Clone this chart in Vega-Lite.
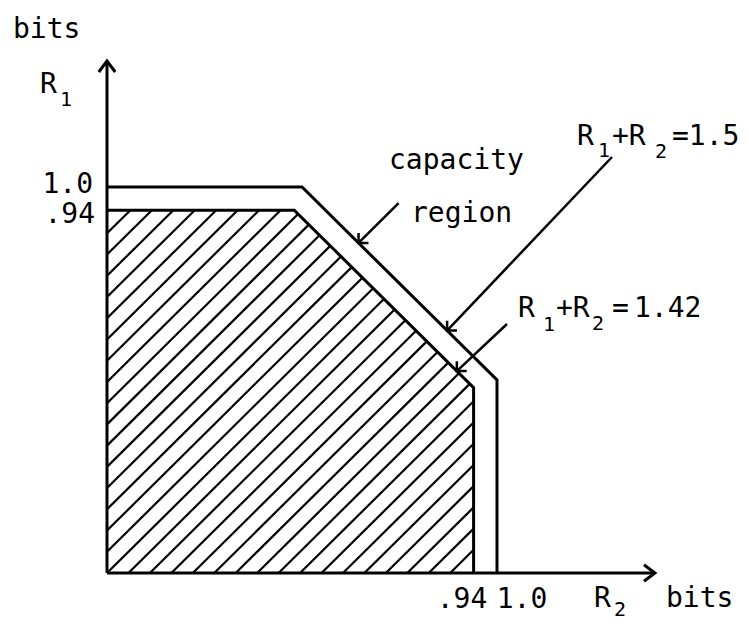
{
  "$schema": "https://vega.github.io/schema/vega-lite/v6.json",
  "width": 749,
  "height": 627,
  "autosize": {"type": "none"},
  "padding": 0,
  "background": "white",
  "config": {"view": {"stroke": null}},
  "datasets": {
    "hatch": [
      {"x": 0.88, "y": 0, "x2": 0.94, "y2": 0.06},
      {"x": 0.825, "y": 0, "x2": 0.94, "y2": 0.115},
      {"x": 0.77, "y": 0, "x2": 0.94, "y2": 0.17},
      {"x": 0.715, "y": 0, "x2": 0.94, "y2": 0.225},
      {"x": 0.66, "y": 0, "x2": 0.94, "y2": 0.28},
      {"x": 0.605, "y": 0, "x2": 0.94, "y2": 0.335},
      {"x": 0.55, "y": 0, "x2": 0.94, "y2": 0.39},
      {"x": 0.495, "y": 0, "x2": 0.94, "y2": 0.445},
      {"x": 0.44, "y": 0, "x2": 0.93, "y2": 0.49},
      {"x": 0.385, "y": 0, "x2": 0.9025, "y2": 0.5175},
      {"x": 0.33, "y": 0, "x2": 0.875, "y2": 0.545},
      {"x": 0.275, "y": 0, "x2": 0.8475, "y2": 0.5725},
      {"x": 0.22, "y": 0, "x2": 0.82, "y2": 0.6},
      {"x": 0.165, "y": 0, "x2": 0.7925, "y2": 0.6275},
      {"x": 0.11, "y": 0, "x2": 0.765, "y2": 0.655},
      {"x": 0.055, "y": 0, "x2": 0.7375, "y2": 0.6825},
      {"x": 0, "y": 0, "x2": 0.71, "y2": 0.71},
      {"x": 0, "y": 0.055, "x2": 0.6825, "y2": 0.7375},
      {"x": 0, "y": 0.11, "x2": 0.655, "y2": 0.765},
      {"x": 0, "y": 0.165, "x2": 0.6275, "y2": 0.7925},
      {"x": 0, "y": 0.22, "x2": 0.6, "y2": 0.82},
      {"x": 0, "y": 0.275, "x2": 0.5725, "y2": 0.8475},
      {"x": 0, "y": 0.33, "x2": 0.545, "y2": 0.875},
      {"x": 0, "y": 0.385, "x2": 0.5175, "y2": 0.9025},
      {"x": 0, "y": 0.44, "x2": 0.49, "y2": 0.93},
      {"x": 0, "y": 0.495, "x2": 0.445, "y2": 0.94},
      {"x": 0, "y": 0.55, "x2": 0.39, "y2": 0.94},
      {"x": 0, "y": 0.605, "x2": 0.335, "y2": 0.94},
      {"x": 0, "y": 0.66, "x2": 0.28, "y2": 0.94},
      {"x": 0, "y": 0.715, "x2": 0.225, "y2": 0.94},
      {"x": 0, "y": 0.77, "x2": 0.17, "y2": 0.94},
      {"x": 0, "y": 0.825, "x2": 0.115, "y2": 0.94},
      {"x": 0, "y": 0.88, "x2": 0.06, "y2": 0.94}
    ],
    "regions": [
      {"region": "capacity", "order": 1, "x": 0, "y": 1.0},
      {"region": "capacity", "order": 2, "x": 0.5, "y": 1.0},
      {"region": "capacity", "order": 3, "x": 1.0, "y": 0.5},
      {"region": "capacity", "order": 4, "x": 1.0, "y": 0},
      {"region": "achievable", "order": 1, "x": 0, "y": 0.94},
      {"region": "achievable", "order": 2, "x": 0.48, "y": 0.94},
      {"region": "achievable", "order": 3, "x": 0.94, "y": 0.48},
      {"region": "achievable", "order": 4, "x": 0.94, "y": 0}
    ],
    "axes": [
      {"x": 0, "y": 0, "x2": 1.405, "y2": 0},
      {"x": 0, "y": 0, "x2": 0, "y2": 1.3264}
    ],
    "axisHeads": [
      {"x": 1.405, "y": 0, "dir": 0},
      {"x": 0, "y": 1.3264, "dir": 270}
    ],
    "pointers": [
      {"x": 0.645, "y": 0.855, "x2": 0.7477, "y2": 0.9585},
      {"x": 0.872, "y": 0.628, "x2": 1.2949, "y2": 1.0777},
      {"x": 0.897, "y": 0.523, "x2": 1.0256, "y2": 0.6451}
    ],
    "pointerHeads": [
      {"x": 0.645, "y": 0.855, "dir": 135},
      {"x": 0.872, "y": 0.628, "dir": 135},
      {"x": 0.897, "y": 0.523, "dir": 135}
    ],
    "textLeft": [
      {"label": "bits", "x": -0.241, "y": 1.386},
      {"label": "R", "x": -0.1718, "y": 1.2435},
      {"label": "R", "x": 1.2487, "y": -0.0881},
      {"label": "bits", "x": 1.4333, "y": -0.0881},
      {"label": "capacity", "x": 0.7231, "y": 1.0466},
      {"label": "region", "x": 0.7795, "y": 0.9093},
      {"label": "R", "x": 1.2051, "y": 1.1088},
      {"label": "+R", "x": 1.2949, "y": 1.1088},
      {"label": "=1.5", "x": 1.4487, "y": 1.1088},
      {"label": "R", "x": 1.0538, "y": 0.6632},
      {"label": "+R", "x": 1.1513, "y": 0.6632},
      {"label": "=", "x": 1.2949, "y": 0.6632},
      {"label": "1.42", "x": 1.3513, "y": 0.6632}
    ],
    "textRight": [
      {"label": "1.0", "x": -0.0359, "y": 0.9845},
      {"label": ".94", "x": -0.0308, "y": 0.9067}
    ],
    "textCenter": [
      {"label": ".94", "x": 0.9103, "y": -0.0907},
      {"label": "1.0", "x": 1.0641, "y": -0.0907}
    ],
    "subscripts": [
      {"label": "1", "x": -0.1205, "y": 1.2098},
      {"label": "2", "x": 1.3, "y": -0.1114},
      {"label": "1", "x": 1.259, "y": 1.0777},
      {"label": "2", "x": 1.4051, "y": 1.0751},
      {"label": "1", "x": 1.1179, "y": 0.6269},
      {"label": "2", "x": 1.2436, "y": 0.6295}
    ]
  },
  "encoding": {
    "x": {"field": "x", "type": "quantitative", "axis": null,
          "scale": {"domain": [-0.27436, 1.64615], "nice": false, "zero": false}},
    "y": {"field": "y", "type": "quantitative", "axis": null,
          "scale": {"domain": [-0.1399, 1.48446], "nice": false, "zero": false}}
  },
  "layer": [
    {
      "data": {"name": "hatch"},
      "mark": {"type": "rule", "color": "black", "strokeWidth": 2.2, "clip": false},
      "encoding": {"x2": {"field": "x2"}, "y2": {"field": "y2"}}
    },
    {
      "data": {"name": "regions"},
      "mark": {"type": "line", "color": "black", "strokeWidth": 3, "strokeJoin": "miter", "clip": false},
      "encoding": {
        "detail": {"field": "region"},
        "order": {"field": "order", "type": "quantitative"}
      }
    },
    {
      "data": {"name": "axes"},
      "mark": {"type": "rule", "color": "black", "strokeWidth": 3, "clip": false},
      "encoding": {"x2": {"field": "x2"}, "y2": {"field": "y2"}}
    },
    {
      "data": {"name": "axisHeads"},
      "mark": {"type": "point", "shape": "M-1,-0.75L0,0L-1,0.75", "filled": false,
               "stroke": "black", "strokeWidth": 3, "size": 484, "opacity": 1, "clip": false},
      "encoding": {"angle": {"field": "dir", "type": "quantitative", "scale": null}}
    },
    {
      "data": {"name": "pointers"},
      "mark": {"type": "rule", "color": "black", "strokeWidth": 2.5, "clip": false},
      "encoding": {"x2": {"field": "x2"}, "y2": {"field": "y2"}}
    },
    {
      "data": {"name": "pointerHeads"},
      "mark": {"type": "point", "shape": "M-1,-1L0,0L-1,1", "filled": false,
               "stroke": "black", "strokeWidth": 2.5, "size": 196, "opacity": 1, "clip": false},
      "encoding": {"angle": {"field": "dir", "type": "quantitative", "scale": null}}
    },
    {
      "data": {"name": "textLeft"},
      "mark": {"type": "text", "font": "DejaVu Sans Mono", "fontSize": 28, "align": "left",
               "baseline": "alphabetic", "color": "black"},
      "encoding": {"text": {"field": "label"}}
    },
    {
      "data": {"name": "textRight"},
      "mark": {"type": "text", "font": "DejaVu Sans Mono", "fontSize": 28, "align": "right",
               "baseline": "alphabetic", "color": "black"},
      "encoding": {"text": {"field": "label"}}
    },
    {
      "data": {"name": "textCenter"},
      "mark": {"type": "text", "font": "DejaVu Sans Mono", "fontSize": 28, "align": "center",
               "baseline": "alphabetic", "color": "black"},
      "encoding": {"text": {"field": "label"}}
    },
    {
      "data": {"name": "subscripts"},
      "mark": {"type": "text", "font": "DejaVu Sans Mono", "fontSize": 20, "align": "left",
               "baseline": "alphabetic", "color": "black"},
      "encoding": {"text": {"field": "label"}}
    }
  ]
}
